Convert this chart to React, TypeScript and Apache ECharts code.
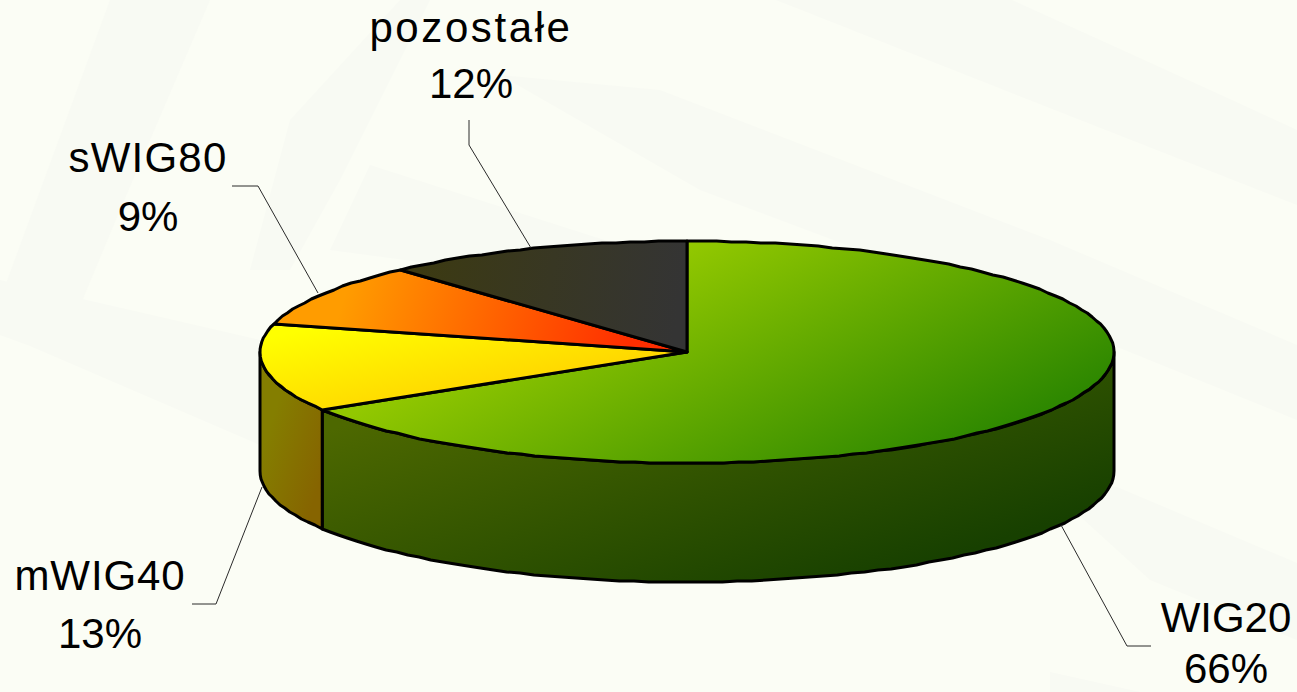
import React, { useEffect, useRef } from "react";
import * as echarts from "echarts";

const categories = ["WIG20", "mWIG40", "sWIG80", "pozostałe"];
const shares = [66.3, 12.8, 9.2, 11.7];

const CX = 687;
const CY = 352;
const RX = 427;
const RY = 111;
const DEPTH = 119;
const STEP_DEG = 2;
const OUTLINE = "#000000";

const grad = (x: number, y: number, x2: number, y2: number, from: string, to: string) => ({
  type: "linear",
  global: true,
  x,
  y,
  x2,
  y2,
  colorStops: [
    { offset: 0, color: from },
    { offset: 1, color: to },
  ],
});

const topFills = [
  grad(690, 245, 826, 517, "#92C800", "#2E8800"),
  grad(280, 335, 300, 435, "#FFFF00", "#FFD400"),
  grad(350, 280, 620, 370, "#FF9C00", "#FF2E00"),
  grad(420, 260, 680, 300, "#3C3A12", "#343434"),
];
const sideFills = [
  grad(330, 430, 430, 730, "#4D6800", "#174000"),
  grad(262, 450, 324, 470, "#847E00", "#866400"),
  null,
  null,
];

const labelLayout = [
  { x: 1226, y1: 617, y2: 668, spacing: 0, line: [[1061, 525], [1127, 646], [1151, 646]] },
  { x: 100, y1: 575, y2: 633, spacing: 0.9, line: [[262, 487], [216, 604], [192, 604]] },
  { x: 148, y1: 157, y2: 216, spacing: 1.2, line: [[318, 293], [258, 186], [232, 186]] },
  { x: 471, y1: 27, y2: 83, spacing: 2.6, line: [[531, 248], [469, 145], [469, 120]] },
];

const bgBands = [
  [[776, 0], [1012, 0], [1232, 100], [1297, 130], [1297, 205], [1042, 105]],
  [[500, 75], [660, 90], [1050, 240], [1297, 345], [1297, 420], [1100, 340], [700, 190]],
  [[0, 280], [260, 340], [260, 445], [30, 346], [0, 335]],
  [[1040, 480], [1117, 487], [1297, 563], [1297, 640], [1150, 580]],
  [[110, 0], [210, 0], [120, 210], [70, 330], [0, 300]],
  [[290, 120], [400, 0], [430, 0], [340, 180], [290, 270], [250, 270]],
  [[370, 165], [620, 245], [420, 262], [330, 250]],
  [[1050, 672], [1140, 692], [1050, 692]],
];

const point = (deg: number, dy = 0) => {
  const a = (deg * Math.PI) / 180;
  return [CX + RX * Math.sin(a), CY + Math.round(-RY * Math.cos(a)) + dy];
};

const arc = (from: number, to: number, dy = 0) => {
  const pts: number[][] = [];
  const n = Math.max(2, Math.ceil(Math.abs(to - from) / STEP_DEG));
  for (let i = 0; i <= n; i++) pts.push(point(from + ((to - from) * i) / n, dy));
  return pts;
};

const total = shares.reduce((s, v) => s + v, 0);

const renderItem = (params: any, api: any) => {
  const i = params.dataIndex;
  const value = api.value(0) as number;
  const before = shares.slice(0, i).reduce((s, v) => s + v, 0);
  const start = (before / total) * 360;
  const end = ((before + value) / total) * 360;
  const children: any[] = [];

  const sideFrom = Math.max(start, 90);
  const sideTo = Math.min(end, 270);
  if (sideTo > sideFrom && sideFills[i]) {
    children.push({
      type: "polygon",
      shape: { points: [...arc(sideFrom, sideTo), ...arc(sideTo, sideFrom, DEPTH)] },
      style: { fill: sideFills[i], stroke: OUTLINE, lineWidth: 3, lineJoin: "round" },
    });
  }
  children.push({
    type: "polygon",
    shape: { points: [[CX, CY], ...arc(start, end)] },
    style: { fill: topFills[i], stroke: OUTLINE, lineWidth: 3, lineJoin: "round" },
  });
  const lay = labelLayout[i];
  children.push({
    type: "polyline",
    shape: { points: lay.line },
    style: { fill: "none", stroke: "#2A2A2A", lineWidth: 1 },
  });
  const textStyle = {
    x: lay.x,
    align: "center",
    verticalAlign: "middle",
    fontSize: 42,
    fontFamily: '"Liberation Sans", Arial, sans-serif',
    fill: "#000000",
  };
  children.push({ type: "text", style: { ...textStyle, text: categories[i], y: lay.y1 } });
  children.push({ type: "text", style: { ...textStyle, text: `${Math.round(value)}%`, y: lay.y2 } });
  return { type: "group", children };
};

export default function App() {
  const ref = useRef<HTMLDivElement>(null);
  useEffect(() => {
    const chart = echarts.init(ref.current!, undefined, { renderer: "svg" });
    chart.setOption({
      animation: false,
      backgroundColor: "#FBFDF5",
      graphic: {
        elements: bgBands.map((points) => ({
          type: "polygon",
          silent: true,
          z: -10,
          shape: { points },
          style: { fill: "#F8FAF3" },
        })),
      },
      series: [
        {
          type: "custom",
          coordinateSystem: "none",
          silent: true,
          renderItem,
          data: shares.map((v, i) => ({ name: categories[i], value: [v] })),
        },
      ],
    });
    ref.current!.querySelectorAll("text").forEach((el) => {
      const idx = categories.indexOf(el.textContent || "");
      if (idx >= 0 && labelLayout[idx].spacing) {
        el.setAttribute("letter-spacing", String(labelLayout[idx].spacing));
      }
    });
    return () => chart.dispose();
  }, []);
  return <div ref={ref} style={{ position: "fixed", left: 0, top: 0, width: 1297, height: 692 }} />;
}
